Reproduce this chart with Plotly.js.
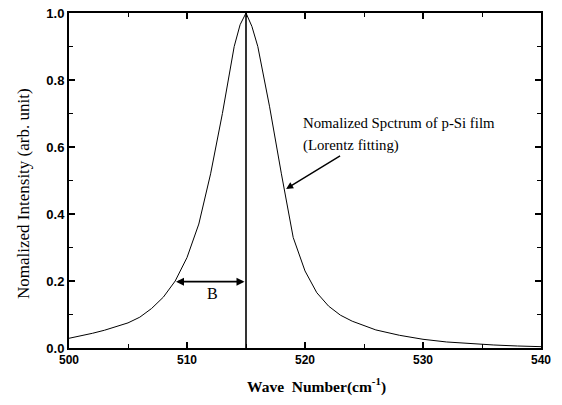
<!DOCTYPE html>
<html>
<head>
<meta charset="utf-8">
<script src="https://cdn.plot.ly/plotly-3.0.1.min.js"></script>
<style>html,body{margin:0;padding:0;background:#fff;}#chart{width:562px;height:405px;}</style>
</head>
<body>
<div id="chart"></div>
<script>
// Wave number (cm^-1) and normalized intensity
const waveNumber = [500, 501, 502, 503, 504, 505, 506, 507, 508, 509, 510, 511, 512, 513, 514, 514.5, 515, 515.5, 516, 517, 518, 519, 520, 521, 522, 523, 524, 525, 526, 528, 530, 532, 534, 536, 538, 540];
const intensity  = [0.029, 0.036, 0.044, 0.053, 0.063, 0.075, 0.092, 0.118, 0.152, 0.2, 0.27, 0.37, 0.52, 0.70, 0.90, 0.965, 1.0, 0.96, 0.9, 0.72, 0.52, 0.33, 0.23, 0.165, 0.125, 0.098, 0.08, 0.066, 0.054, 0.038, 0.026, 0.018, 0.013, 0.009, 0.006, 0.004];

// Peak marker line
const peakLineX = [515, 515];
const peakLineY = [0, 1];

// Half-width marker "B"
const widthArrowX = [509.07, 515];
const widthArrowY = 0.198;
const widthLabel = "B";

// Curve label and pointer
const curveLabel1 = "Nomalized Spctrum of p-Si film";
const curveLabel2 = "(Lorentz fitting)";
const pointerTail = [523.1, 0.576];
const pointerHead = [518.4, 0.475];

const xTickVals = [500, 510, 520, 530, 540];
const yTickVals = [0, 0.2, 0.4, 0.6, 0.8, 1.0];

const serif = "Liberation Serif, Times New Roman, serif";
const sans = "Liberation Sans, Arial, sans-serif";

const traces = [
  {x: waveNumber, y: intensity, type: 'scatter', mode: 'lines', line: {color: '#000', width: 1}, hoverinfo: 'skip'},
  {x: peakLineX, y: peakLineY, type: 'scatter', mode: 'lines', line: {color: '#000', width: 1.6}, hoverinfo: 'skip'}
];

const axisCommon = {
  showgrid: false, zeroline: false, showline: true, linecolor: '#000', linewidth: 2,
  mirror: 'allticks', ticks: 'inside', ticklen: 6, tickwidth: 1.5, tickcolor: '#000',
  minor: {ticks: 'inside', ticklen: 4, tickwidth: 1, tickcolor: '#000'}
};

const layout = {
  width: 562, height: 405,
  margin: {l: 69, r: 21, t: 13, b: 57},
  paper_bgcolor: '#fff', plot_bgcolor: '#fff',
  showlegend: false,
  xaxis: Object.assign({}, axisCommon, {
    range: [500, 540], tickvals: xTickVals, ticktext: xTickVals.map(String),
    tickfont: {family: sans, size: 12, color: '#000', weight: 'bold'},
    minor: Object.assign({}, axisCommon.minor, {dtick: 5, tick0: 500})
  }),
  yaxis: Object.assign({}, axisCommon, {
    range: [0, 1], tickvals: yTickVals, ticktext: yTickVals.map(v => v.toFixed(1)),
    tickfont: {family: sans, size: 13, color: '#000', weight: 'bold'},
    minor: Object.assign({}, axisCommon.minor, {dtick: 0.1, tick0: 0})
  }),
  annotations: [
    {x: widthArrowX[0], y: widthArrowY, ax: widthArrowX[1], ay: widthArrowY, xref: 'x', yref: 'y', axref: 'x', ayref: 'y',
     showarrow: true, arrowhead: 2, arrowside: 'end+start', arrowsize: 1, arrowwidth: 1.6, arrowcolor: '#000', text: ''},
    {x: 512.2, y: 0.164, xref: 'x', yref: 'y', text: widthLabel, showarrow: false,
     font: {family: serif, size: 16, color: '#000'}},
    {x: pointerHead[0], y: pointerHead[1], ax: pointerTail[0], ay: pointerTail[1], xref: 'x', yref: 'y', axref: 'x', ayref: 'y',
     showarrow: true, arrowhead: 2, arrowsize: 1, arrowwidth: 1.4, arrowcolor: '#000', text: ''},
    {x: 301, y: 123, xref: 'paper', yref: 'paper', text: curveLabel1, showarrow: false, xanchor: 'left', yanchor: 'middle',
     font: {family: serif, size: 14.8, color: '#000'}},
    {x: 301, y: 145, xref: 'paper', yref: 'paper', text: curveLabel2, showarrow: false, xanchor: 'left', yanchor: 'middle',
     font: {family: serif, size: 14.8, color: '#000'}},
    {x: 316, y: 385, xref: 'paper', yref: 'paper', text: 'Wave&nbsp;&nbsp;Number(cm<sup>-1</sup>)', showarrow: false,
     xanchor: 'center', yanchor: 'middle', font: {family: serif, size: 15.5, color: '#000', weight: 'bold'}},
    {x: 23, y: 194, xref: 'paper', yref: 'paper', text: 'Nomalized Intensity (arb. unit)', showarrow: false, textangle: -90,
     xanchor: 'center', yanchor: 'middle', font: {family: serif, size: 17, color: '#000'}}
  ]
};

// convert pixel positions of paper-anchored text labels into paper fractions
const pw = 562 - 69 - 21, ph = 405 - 13 - 57;
layout.annotations.forEach(a => {
  if (a.xref === 'paper') { a.x = (a.x - 69) / pw; a.y = (348 - a.y) / ph; }
});

Plotly.newPlot('chart', traces, layout, {staticPlot: true, displayModeBar: false});
</script>
</body>
</html>
